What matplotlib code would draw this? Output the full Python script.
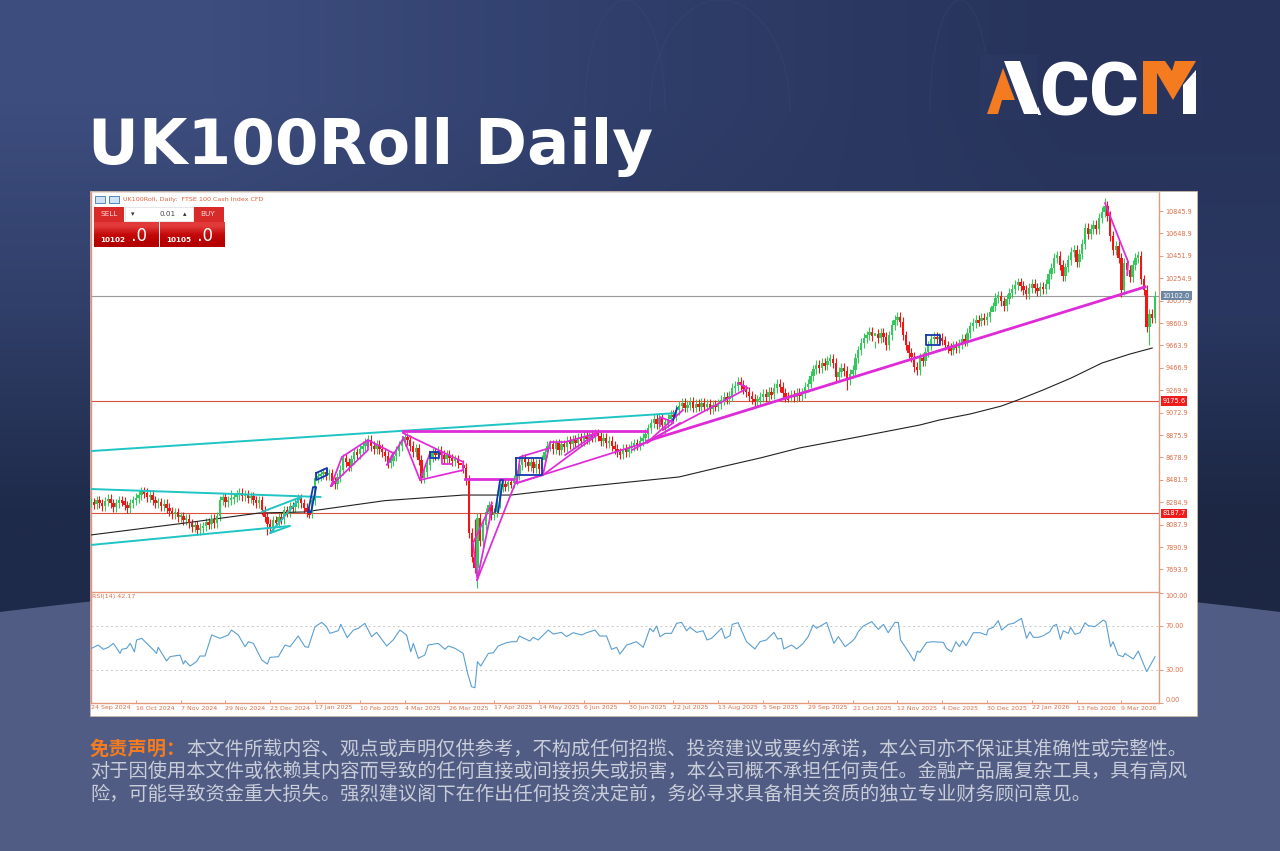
import numpy as np
import matplotlib
matplotlib.use("Agg")
import matplotlib.pyplot as plt
from matplotlib.patches import Rectangle, Polygon

plt.rcParams['font.family'] = ['Noto Sans CJK SC', 'DejaVu Sans']

# ---------- data ----------
title = "UK100Roll Daily"
logo = "ACCM"
disclaimer_head = "免责声明："
disclaimer = ["本文件所载内容、观点或声明仅供参考，不构成任何招揽、投资建议或要约承诺，本公司亦不保证其准确性或完整性。",
              "对于因使用本文件或依赖其内容而导致的任何直接或间接损失或损害，本公司概不承担任何责任。金融产品属复杂工具，具有高风",
              "险，可能导致资金重大损失。强烈建议阁下在作出任何投资决定前，务必寻求具备相关资质的独立专业财务顾问意见。"]

date_labels = ["24 Sep 2024", "16 Oct 2024", "7 Nov 2024", "29 Nov 2024", "23 Dec 2024", "17 Jan 2025",
               "10 Feb 2025", "4 Mar 2025", "26 Mar 2025", "17 Apr 2025", "14 May 2025", "6 Jun 2025",
               "30 Jun 2025", "22 Jul 2025", "13 Aug 2025", "5 Sep 2025", "29 Sep 2025", "21 Oct 2025",
               "12 Nov 2025", "4 Dec 2025", "30 Dec 2025", "22 Jan 2026", "13 Feb 2026", "9 Mar 2026"]

price_ticks = [10845.9, 10648.9, 10451.9, 10254.9, 10057.9, 9860.9, 9663.9, 9466.9, 9269.9, 9072.9,
               8875.9, 8678.9, 8481.9, 8284.9, 8087.9, 7890.9, 7693.9]

closes = [
 8286,8268,8304,8277,8251,8295,8313,8277,8242,8277,8304,8295,8260,8234,8277,8304,
 8322,8348,8383,8366,8330,8348,8304,8277,8286,8251,8269,8234,8207,8181,8198,8154,
 8163,8128,8137,8101,8066,8084,8040,8058,8075,8110,8093,8137,8101,8163,8304,8330,
 8286,8304,8313,8330,8348,8366,8339,8348,8322,8339,8304,8277,8304,8216,8154,8093,
 8066,8128,8110,8154,8137,8216,8198,8251,8242,8277,8313,8277,8234,8198,8189,8304,
 8497,8515,8533,8550,8524,8541,8471,8445,8506,8568,8673,8638,8603,8664,8726,8708,
 8753,8779,8814,8832,8779,8753,8788,8753,8726,8691,8630,8647,8691,8735,8779,8823,
 8858,8832,8779,8726,8761,8656,8497,8550,8612,8682,8726,8700,8735,8700,8664,8700,
 8673,8647,8664,8630,8612,8586,8480,8014,7803,7706,8146,7944,8084,8198,8260,8172,
 8198,8277,8418,8445,8427,8462,8453,8480,8524,8612,8673,8638,8603,8638,8586,8621,
 8577,8656,8726,8779,8796,8753,8805,8744,8796,8770,8823,8796,8832,8805,8850,8823,
 8867,8841,8876,8858,8893,8867,8823,8850,8805,8823,8779,8753,8726,8708,8753,8726,
 8761,8779,8805,8788,8823,8850,8885,8937,8981,9017,8973,9026,8964,8981,9017,9052,
 9035,9096,9131,9158,9114,9140,9167,9114,9149,9123,9158,9123,9149,9105,9140,9123,
 9149,9184,9210,9193,9219,9289,9307,9342,9316,9280,9254,9219,9193,9167,9184,9210,
 9237,9210,9254,9237,9289,9325,9298,9245,9210,9202,9228,9210,9245,9219,9245,9298,
 9325,9395,9456,9492,9465,9509,9492,9527,9544,9509,9386,9430,9465,9439,9360,9413,
 9448,9553,9623,9685,9729,9755,9782,9747,9764,9729,9773,9738,9667,9755,9843,9887,
 9914,9870,9755,9667,9597,9562,9474,9448,9553,9527,9606,9667,9720,9738,9720,9729,
 9711,9667,9641,9623,9667,9641,9676,9720,9702,9773,9834,9861,9887,9878,9905,9887,
 9914,9958,10010,10081,10098,10054,10010,10072,10125,10160,10195,10221,10186,10151,10116,10169,
 10204,10169,10142,10178,10160,10204,10292,10345,10433,10450,10371,10274,10353,10415,10485,10503,
 10397,10468,10556,10696,10644,10688,10723,10688,10784,10837,10890,10802,10626,10503,10538,10433,
 10151,10389,10327,10265,10371,10433,10450,10248,10151,9826,9940,9905,10102]

long_lows = {63: 7997, 138: 7530, 270: 9272, 368: 10090, 378: 9667, 205: 8880, 322: 9980}
long_highs = {50: 8392, 19: 8420, 71: 8290, 132: 8560, 362: 10960, 137: 8140, 280: 9640, 376: 10280}

ma_bars = [0, 33.6, 60, 76, 105, 133, 150, 175, 210, 225, 239, 253, 272, 296, 303, 314, 325, 331, 340, 350, 361, 371, 379]
ma_vals = [7997, 8102, 8190, 8199, 8299, 8348, 8348, 8419, 8507, 8595, 8674, 8762, 8850, 8964, 9008, 9061, 9130, 9184,
           9272, 9377, 9509, 9588, 9641]

red_levels = [9175.6, 8187.7]
last_price = 10102.0

cyan_lines = [[(0, 8735), (209, 9069)], [(0, 8401), (82, 8331)], [(0, 7909), (71, 8076)],
              [(61, 8199), (75, 8331)], [(64, 8014), (75, 8331)], [(64, 8014), (71, 8076)]]

magenta_lines = [
 [(85.7, 8428), (89.6, 8683), (98.9, 8832), (98.9, 8744), (85.7, 8428)],
 [(98.9, 8832), (107.9, 8718), (105.7, 8612), (111.4, 8841)],
 [(111.4, 8894), (132.9, 8639), (132.9, 8568), (117.5, 8480), (111.4, 8859)],
 [(117.5, 8480), (121.1, 8718)], [(125.4, 8718), (125.4, 8621), (128.9, 8621)],
 [(136.4, 7926), (143.2, 8278)], [(137.9, 7601), (142.9, 8199)], [(136.4, 7926), (137.9, 7627)],
 [(137.9, 7601), (152.1, 8489)], [(152.1, 8454), (161.4, 8524), (180.7, 8876)],
 [(152.1, 8454), (198.6, 8814)], [(152.1, 8454), (153.2, 8683), (163.9, 8762)],
 [(161.4, 8524), (163.9, 8814), (169.3, 8814), (180.7, 8893), (169.3, 8700)],
 [(193.2, 8744), (197.9, 8806)], [(198.6, 8806), (210.4, 8982)], [(199.6, 8832), (211.4, 9096)],
 [(199.6, 8832), (234.6, 9289), (231.1, 9333)], [(203.2, 8955), (203.2, 9034), (207.9, 8990)],
 [(204.3, 8920), (207.9, 8982)], [(362.1, 10916), (370.4, 10397), (370, 10283)]]

magenta_thick = [[(111.4, 8907), (198.6, 8907)], [(133.6, 8485), (150.7, 8485)],
                 [(198.6, 8823), (376.4, 10178)]]

blue_lines = [[(77.5, 8198), (79.3, 8418), (80.4, 8418), (78.6, 8198), (77.5, 8198)],
              [(80.4, 8542), (84.3, 8586), (84.3, 8524), (80.4, 8480), (80.4, 8542)],
              [(144.3, 8199), (146.1, 8480), (147.1, 8480), (145.4, 8199)],
              [(151.8, 8674), (161.1, 8674), (161.1, 8524), (151.8, 8524), (151.8, 8674)],
              [(121.1, 8727), (124.3, 8727), (124.3, 8674), (121.1, 8674), (121.1, 8727)],
              [(207.9, 9008), (209.3, 9113)],
              [(298.2, 9755), (303.2, 9755), (303.2, 9667), (298.2, 9667), (298.2, 9755)]]

rsi_bars = [0.2,2.6,4.4,6.2,8,10.4,11,12.7,14,15.5,16.3,18.1,20.5,22.3,23.4,24,27,28.2,31.8,33,33.6,35.4,37.7,38.9,40.7,
 43.1,46.1,49,50.2,52.6,55,56.2,58,61,63,63.9,66.9,69.3,71.1,74,76.4,77.6,80,82.4,84.1,85.3,88.3,89.2,91.5,93.7,95.5,97.8,
 100.2,102,105.6,107.9,110.3,112.7,114.2,115.1,116.9,119.2,120.4,124,126.4,127.6,130,132.9,134.5,135.9,137.1,138,139.2,
 141.9,143.7,145.4,148.4,150.2,152,153,156.7,157.9,159.7,163.3,165.1,168,169.8,172.2,175.2,177,180,181.7,184.1,185.9,187.7,
 188.9,191.3,194.8,197.2,199.6,200.8,202,203.2,205,207.3,209.1,210.9,212.7,213.9,216.3,218.6,220,221.6,225.2,226.4,228.2,
 229,231.1,234.1,237.1,238.9,241.2,243.9,245.2,246.6,247.4,250.2,252,254.3,256.1,257.9,259.1,262.7,
 265.3,266.9,269.3,271.6,272.8,274,275.8,278.8,281.2,283,284.7,287.1,288.3,289.1,291.9,294,295.1,296,298.4,300.8,304.4,
 305.5,307.3,308.9,310.1,311.3,312.5,315.1,317.5,319.8,320.4,322.2,324,325.2,327.6,329.4,332.3,334.1,335.3,336.5,338.3,
 340.1,342.4,343.6,344.8,346.2,347.2,349,349.8,351.4,353.2,355,356.1,358.5,361.5,362.4,364.1,365,366.8,368.6,369.2,372.2,
 374,377,380]
rsi_vals = [49.7,52.7,48.8,50.6,54.2,45.1,48.8,49.7,54.2,46.6,57.3,58.8,52.7,48.2,45.1,50.6,38.2,42.1,43.6,35.4,38.5,33.6,37.6,42.7,42.7,
 61.8,58.8,61.8,66.3,61.8,51.2,55.7,54.2,39.1,35.4,41.5,42.1,52.7,51.2,60.9,51.2,50.6,69.4,73.3,69.4,63.3,65.7,71.5,59.4,66.3,67.9,72.4,
 60.3,64.2,51.8,57.3,66.3,61.8,46.6,54.2,40.6,43.6,52.7,54.2,48.8,51.8,49.7,45.1,26.9,14.8,13.9,37.6,33.6,
 45.1,45.7,51.8,54.8,55.7,55.7,60.9,56.3,59.7,57.3,66.3,62.7,64.2,60.3,63.9,61.8,63.9,66.3,60.9,60.9,48.8,50.6,
 44.5,52.7,55.7,50.6,67.9,64.8,70,60.3,63.3,63.3,72.4,73.3,65.7,68.8,64.2,65.7,57.3,58.8,67.9,58.8,61.2,
 71.5,73,55.7,49.1,55.7,57.3,64.2,58.2,58.8,49.1,52.7,49.1,54.2,60.3,70.9,67.9,73.3,
 54.2,60.3,51.2,55.7,58.8,64.8,70,73.9,66.9,71.5,63.9,73.3,73.3,57.3,46.6,38.2,47.2,46,55.1,55.7,55.1,
 49.7,46.6,55.7,51.2,56.6,52.1,63.9,63.9,61.8,66.9,68.8,74.8,66.3,71.5,72.4,76.9,58.8,64.8,59.7,59.7,
 61.2,64.8,70,71.5,57.9,65.7,63.3,68.8,62.4,63.9,73,70.3,69.4,75.4,73.9,51.2,55.7,43.6,42.1,45.1,40,
 47.2,28.5,42.1]

# ---------- page ----------
W, H = 1280, 851
fig = plt.figure(figsize=(W / 100, H / 100), dpi=100)
bg = fig.add_axes([0, 0, 1, 1], zorder=0)
bg.set_xlim(0, W); bg.set_ylim(H, 0); bg.axis('off')

def rgb(h):
    return [int(h[i:i + 2], 16) / 255 for i in (1, 3, 5)]
corners = np.array([[rgb('#3d4d7e'), rgb('#2f3e6a'), rgb('#27335a')],
                    [rgb('#303f69'), rgb('#2b3860'), rgb('#2a3760')],
                    [rgb('#1e2a49'), rgb('#1c2744'), rgb('#1c2743')]])
bg.imshow(corners, extent=(0, W, 620, 0), aspect='auto', interpolation='bilinear', zorder=0)
bg.set_xlim(0, W); bg.set_ylim(H, 0)

xs = np.linspace(0, W, 81)
arc = 612 - 40 * (1 - ((xs - W / 2) / (W / 2)) ** 2)
bg.fill_between(xs, arc, H, color='#505c83', zorder=1, lw=0)
# faint decoration on the backdrop
for xc, r in [(625, 40), (720, 70), (960, 30)]:
    t = np.linspace(np.pi, 2 * np.pi, 40)
    bg.plot(xc + r * np.cos(t), 110 + 110 * np.sin(t), color='#46557f', lw=1, alpha=.2, zorder=1)

bg.text(88, 164, title, color='white', fontsize=45.2, fontweight='bold', family=['DejaVu Sans'],
        va='baseline', ha='left', zorder=3)

# logo: the word in white; the outer letters are knocked out with the local gradient and
# redrawn as the brand's cut shapes
LOGO_BG = '#29355d'
bg.text(989, 115, logo, color='white', fontsize=54, fontweight=900, family=['Roboto', 'DejaVu Sans'],
        ha='left', va='baseline', zorder=3)
backdrop = np.array([[rgb('#2a3862'), rgb('#29365e')], [rgb('#2a3861'), rgb('#29365e')]])
bg.imshow(backdrop, extent=(980, 1037.5, 120, 55), aspect='auto', interpolation='bilinear', zorder=4)
bg.imshow(backdrop[:, ::-1] * 0 + np.array(rgb('#28345c')), extent=(1138, 1202, 120, 55), aspect='auto', zorder=4)
bg.set_xlim(0, W); bg.set_ylim(H, 0)
bg.add_patch(Polygon([(1004, 61), (1020, 61), (1040, 114), (1024, 114)], closed=True, fc='white', lw=0, zorder=5))
bg.add_patch(Polygon([(987, 114), (1003, 68), (1010, 87), (1015, 100), (1002, 100), (998, 114)],
                     closed=True, fc='#f47b20', lw=0, zorder=5))
bg.add_patch(Polygon([(1143, 61), (1196, 61), (1183, 83), (1173, 100), (1157, 73), (1157, 114), (1143, 114)],
                     closed=True, fc='#f47b20', lw=0, zorder=5))
bg.add_patch(Polygon([(1183, 114), (1183, 85), (1196, 70), (1196, 114)], closed=True, fc='white', lw=0, zorder=5))
bg.add_patch(Polygon([(1165, 61), (1175, 61), (1172, 71)], closed=True, fc=LOGO_BG, lw=0, zorder=5))

# white panel
bg.add_patch(Rectangle((90, 191), 1107, 525, fc='white', ec='#c8b8a8', lw=.6, zorder=2))

# disclaimer
dsize = 13.84
bg.text(90, 749, disclaimer_head, color='#f47b20', fontsize=dsize, fontweight='bold', va='center', zorder=3)
bg.text(186, 749, disclaimer[0], color='#c9cdd9', fontsize=dsize, va='center', zorder=3)
bg.text(90, 771.5, disclaimer[1], color='#c9cdd9', fontsize=dsize, va='center', zorder=3)
bg.text(90, 794.5, disclaimer[2], color='#c9cdd9', fontsize=dsize, va='center', zorder=3)

# ---------- axes ----------
def axes_px(x0, y0, x1, y1, z):
    return fig.add_axes([x0 / W, 1 - y1 / H, (x1 - x0) / W, (y1 - y0) / H], zorder=z)

EDGE = '#e39a7c'
LABEL = '#d9704a'
ax = axes_px(91, 192, 1159, 592, 2)
rs = axes_px(91, 593, 1159, 703, 2)
for a in (ax, rs):
    a.patch.set_alpha(0)
    a.set_xlim(0, 381.4)
    for s in a.spines.values():
        s.set_color(EDGE); s.set_linewidth(1.0)
    a.spines['top'].set_visible(False)
    a.spines['left'].set_color('#e58f78')
ax.spines['top'].set_visible(True); ax.spines['top'].set_color('#ddd0c4'); ax.spines['top'].set_linewidth(.5)
ax.set_ylim(7495.4, 11013)
rs.set_ylim(0, 100)

# candles
closes = np.array(closes, float)
opens = np.r_[closes[0], closes[:-1]]
idx = np.arange(len(closes))
hi = np.maximum(opens, closes) + 40
lo = np.minimum(opens, closes) - 40
for k, v in long_lows.items():
    lo[k] = v
for k, v in long_highs.items():
    hi[k] = v
up = closes >= opens
GREEN, RED = '#35c95c', '#f01616'
ax.vlines(idx[up], lo[up], hi[up], color=GREEN, lw=.8, zorder=3)
ax.vlines(idx[~up], lo[~up], hi[~up], color=RED, lw=.8, zorder=3)
body = np.where(np.abs(closes - opens) < 22, 22 * np.where(up, 1, -1), closes - opens)
ax.bar(idx[up], body[up], bottom=opens[up], width=.85, color=GREEN, lw=0, zorder=4)
ax.bar(idx[~up], body[~up], bottom=opens[~up], width=.85, color=RED, lw=0, zorder=4)

ax.plot(ma_bars, ma_vals, color='#222222', lw=.8, zorder=3)
for lv in red_levels:
    ax.axhline(lv, color='#d9503c', lw=.8, zorder=2)
ax.axhline(last_price, color='#9a9a9a', lw=.8, zorder=2)

for seg in cyan_lines:
    ax.plot(*zip(*seg), color='#1fc4c4', lw=1.4, zorder=5, solid_capstyle='round')
for seg in magenta_lines:
    ax.plot(*zip(*seg), color='#e02ad8', lw=1.25, zorder=5, solid_joinstyle='round')
for seg in magenta_thick:
    ax.plot(*zip(*seg), color='#e02ad8', lw=2.0, zorder=5)
for seg in blue_lines:
    ax.plot(*zip(*seg), color='#1538b0', lw=1.3, zorder=6)

ax.yaxis.tick_right()
ax.set_yticks(price_ticks)
ax.set_yticklabels([f"{p:.1f}" for p in price_ticks])
ax.set_xticks([])
TICKFONT = ['DejaVu Sans']
ax.tick_params(axis='y', length=3, width=.7, color=EDGE, labelcolor=LABEL, labelsize=4.7, pad=1.5)
for t in ax.get_yticklabels():
    t.set_family(TICKFONT)

# price boxes on the right scale
for lv in red_levels:
    ax.annotate(f"{lv:.1f}", xy=(1, lv), xycoords=('axes fraction', 'data'), xytext=(2.5, 0),
                textcoords='offset points', color='white', fontsize=4.8, va='center', ha='left', family=TICKFONT,
                bbox=dict(boxstyle='square,pad=0.25', fc='#ee1c1c', ec='none'), zorder=8, annotation_clip=False)
ax.annotate(f"{last_price:.1f}", xy=(1, last_price), xycoords=('axes fraction', 'data'), xytext=(2.5, 0),
            textcoords='offset points', color='white', fontsize=4.8, va='center', ha='left', family=TICKFONT,
            bbox=dict(boxstyle='square,pad=0.25', fc='#6d87a3', ec='none'), zorder=8, annotation_clip=False)

# RSI
rs.plot(rsi_bars, rsi_vals, color='#5b9fd0', lw=.8, zorder=3)
for lv in (70, 30):
    rs.axhline(lv, color='#c8c8c8', lw=.7, ls=(0, (2, 3)), zorder=1)
rs.yaxis.tick_right()
rs.set_yticks([100, 70, 30, 0])
rs.set_yticklabels(["100.00", "70.00", "30.00", "0.00"])
rs.tick_params(axis='y', length=3, width=.7, color=EDGE, labelcolor=LABEL, labelsize=4.7, pad=1.5)
for t, va in zip(rs.get_yticklabels(), ['top', 'center', 'center', 'bottom']):
    t.set_va(va); t.set_family(TICKFONT)
rs.set_xticks(np.arange(len(date_labels)) * 16)
rs.set_xticklabels(date_labels, ha='left')
rs.tick_params(axis='x', length=2.5, width=.7, direction='in', color=EDGE, labelcolor=LABEL, labelsize=4.5, pad=1.8)
for t in rs.get_xticklabels():
    t.set_family(TICKFONT)
rs.text(0.5, 99, "RSI(14) 42.17", color=LABEL, fontsize=4.6, va='top', ha='left', family=TICKFONT)

# ---------- trade widget and header (drawn in page pixels) ----------
top = fig.add_axes([0, 0, 1, 1], zorder=5)
top.patch.set_alpha(0); top.axis('off')
top.set_xlim(0, W); top.set_ylim(H, 0)
top.text(123, 199.5, "UK100Roll, Daily:  FTSE 100 Cash Index CFD", color='#d9603a', fontsize=4.6,
         va='center', family=TICKFONT)
for x0 in (95, 109):
    top.add_patch(Rectangle((x0, 196), 10, 7, fc='#cfe3f5', ec='#3a78b8', lw=.6))
top.add_patch(Rectangle((94, 207), 30, 15, fc='#d92a2a', lw=0))
top.add_patch(Rectangle((194, 207), 30, 15, fc='#d92a2a', lw=0))
top.add_patch(Rectangle((125, 207), 68, 14, fc='white', ec='#dddddd', lw=.5))
red_grad = np.array([[rgb('#e23a3a')], [rgb('#c40a0a')], [rgb('#b40000')]])
for x0, x1 in ((94, 158.5), (160, 225)):
    top.imshow(red_grad, extent=(x0, x1, 247, 222), aspect='auto', interpolation='bilinear')
top.set_xlim(0, W); top.set_ylim(H, 0)
top.text(109, 214.5, "SELL", color='#ffd9d9', fontsize=5.2, ha='center', va='center', family=TICKFONT)
top.text(208, 214.5, "BUY", color='#ffd9d9', fontsize=5.2, ha='center', va='center', family=TICKFONT)
top.text(176, 214.5, "0.01", color='#444444', fontsize=5.2, ha='right', va='center', family=TICKFONT)
top.text(132.5, 214.5, "▾", color='#333333', fontsize=5, ha='center', va='center', family=TICKFONT)
top.text(185, 214.5, "▴", color='#333333', fontsize=5, ha='center', va='center', family=TICKFONT)
for x0, s in ((100, "10102"), (166, "10105")):
    top.text(x0, 240, s, color='white', fontsize=5.2, fontweight='bold', va='center', family=TICKFONT)
    top.text(x0 + 26, 236, " .0", color='white', fontsize=12, va='center', family=TICKFONT)

fig.savefig("out.png", dpi=100)
